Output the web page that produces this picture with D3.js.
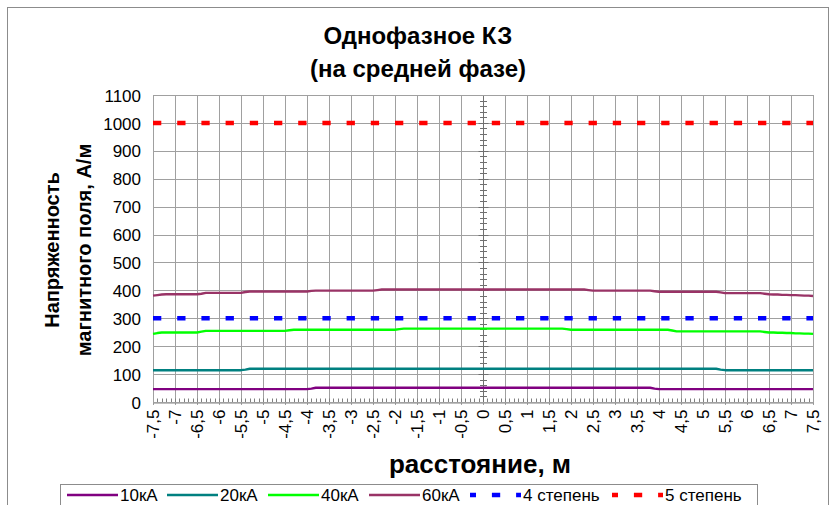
<!DOCTYPE html>
<html>
<head>
<meta charset="utf-8">
<script src="https://cdn.jsdelivr.net/npm/d3@7"></script>
<style>
  body { margin: 0; background: #fff; }
  text { font-family: "Liberation Sans", Arial, sans-serif; fill: #000; }
</style>
</head>
<body>
<svg id="chart" width="837" height="505"></svg>
<script>
// Distance from the middle phase, m (one point every 0.1 m)
const distance = d3.range(151).map(i => Math.round((-7.5 + i * 0.1) * 10) / 10);

// Labelled positions on the distance axis
const xTickValues = [-7.5,-7,-6.5,-6,-5.5,-5,-4.5,-4,-3.5,-3,-2.5,-2,-1.5,-1,-0.5,0,
                     0.5,1,1.5,2,2.5,3,3.5,4,4.5,5,5.5,6,6.5,7,7.5];
const xTickLabels = ["-7,5","-7","-6,5","-6","-5,5","-5","-4,5","-4","-3,5","-3","-2,5","-2","-1,5","-1","-0,5","0",
                     "0,5","1","1,5","2","2,5","3","3,5","4","4,5","5","5,5","6","6,5","7","7,5"];
const yTickValues = [0,100,200,300,400,500,600,700,800,900,1000,1100];

// Magnetic field strength, A/m, for each fault current
const h10kA = [
  46,46,46,46,46,46,46,46,46,46,
  46,46,46,46,46,46,46,46,46,46,
  46,46,46,46,46,46,46,46,46,46,
  46,46,46,46,46,46,48,51,51,51,
  51,51,51,51,51,51,51,51,51,51,
  51,51,51,51,51,51,51,51,51,51,
  51,51,51,51,51,51,51,51,51,51,
  51,51,51,51,51,51,51,51,51,51,
  51,51,51,51,51,51,51,51,51,51,
  51,51,51,51,51,51,51,51,51,51,
  51,51,51,51,51,51,51,51,51,51,
  51,51,51,51,48,46,46,46,46,46,
  46,46,46,46,46,46,46,46,46,46,
  46,46,46,46,46,46,46,46,46,46,
  46,46,46,46,46,46,46,46,46,46,
  46
];
const h20kA = [
  114,114,114,114,114,114,114,114,114,114,
  114,114,114,114,114,114,114,114,114,114,
  114,116,119,119,119,119,119,119,119,119,
  119,119,119,119,119,119,119,119,119,119,
  119,119,119,119,119,119,119,119,119,119,
  119,119,119,119,119,119,119,119,119,119,
  119,119,119,119,119,119,119,119,119,119,
  119,119,119,119,119,119,119,119,119,119,
  119,119,119,119,119,119,119,119,119,119,
  119,119,119,119,119,119,119,119,119,119,
  119,119,119,119,119,119,119,119,119,119,
  119,119,119,119,119,119,119,119,119,119,
  119,119,119,119,119,119,119,119,119,116,
  114,114,114,114,114,114,114,114,114,114,
  114,114,114,114,114,114,114,114,114,114,
  114
];
const h40kA = [
  244,247,249,249,249,249,249,249,249,249,
  249,252,255,255,255,255,255,255,255,255,
  255,255,255,255,255,255,255,255,255,255,
  255,257,259,259,259,259,259,259,259,259,
  259,259,259,259,259,259,259,259,259,259,
  259,259,259,259,259,259,261,263,263,263,
  263,263,263,263,263,263,263,263,263,263,
  263,263,263,263,263,263,263,263,263,263,
  263,263,263,263,263,263,263,263,263,263,
  263,263,263,263,261,259,259,259,259,259,
  259,259,259,259,259,259,259,259,259,259,
  259,259,259,259,259,259,259,259,256,253,
  253,253,253,253,253,253,253,253,253,253,
  253,253,253,253,253,253,253,253,253,251,
  249,249,248,248,247,247,246,246,245,245,
  244
];
const h60kA = [
  381,383,385,386,386,386,386,386,386,386,
  386,388,391,391,391,391,391,391,391,391,
  391,394,396,396,396,396,396,396,396,396,
  396,396,396,396,396,396,398,399,399,399,
  399,399,399,399,399,399,399,399,399,399,
  399,401,403,403,403,403,403,403,403,403,
  403,403,403,403,403,403,403,403,403,403,
  403,403,403,403,403,403,403,403,403,403,
  403,403,403,403,403,403,403,403,403,403,
  403,403,403,403,403,403,403,403,403,401,
  399,399,399,399,399,399,399,399,399,399,
  399,399,399,399,397,395,395,395,395,395,
  395,395,395,395,395,395,395,395,395,393,
  390,390,390,390,390,390,390,390,390,388,
  386,385,385,384,384,383,383,382,381,381,
  380
];

// Permitted levels, A/m
const level4 = 300;   // 4 степень
const level5 = 1000;  // 5 степень

const seriesNames  = ["10кА", "20кА", "40кА", "60кА"];
const seriesValues = [h10kA, h20kA, h40kA, h60kA];
const seriesColors = ["#800080", "#008080", "#00ff00", "#993366"];
const levelNames   = ["4 степень", "5 степень"];
const levelValues  = [level4, level5];
const levelColors  = ["#0000ff", "#ff0000"];

const svg = d3.select("#chart");
const plot = { left: 153, right: 813, top: 95, bottom: 402 };

const x = d3.scaleLinear().domain([-7.5, 7.5]).range([plot.left, plot.right]);
const y = d3.scaleLinear().domain([0, 1100]).range([plot.bottom, plot.top]);

// Chart area frame
svg.append("rect")
  .attr("x", 7.5).attr("y", 7.5).attr("width", 821).attr("height", 520)
  .attr("fill", "#fff").attr("stroke", "#8c8c8c").attr("stroke-width", 1);

// Title
const title = svg.append("text")
  .attr("text-anchor", "middle")
  .attr("font-size", 24).attr("font-weight", "bold");
title.append("tspan").attr("x", 418).attr("y", 44).text("Однофазное КЗ");
title.append("tspan").attr("x", 418).attr("y", 77).text("(на средней фазе)");

// Grid lines
const grid = svg.append("g").attr("stroke", "#a0a0a0").attr("stroke-width", 1);
grid.selectAll("line.h").data(yTickValues.filter(v => v > 0)).join("line")
  .attr("x1", plot.left).attr("x2", plot.right)
  .attr("y1", d => Math.round(y(d)) + 0.5).attr("y2", d => Math.round(y(d)) + 0.5);
grid.selectAll("line.v").data(xTickValues).join("line")
  .attr("x1", d => Math.round(x(d)) + 0.5).attr("x2", d => Math.round(x(d)) + 0.5)
  .attr("y1", plot.top).attr("y2", plot.bottom + 3);

// Bottom axis: one minor tick per point, labels every 0.5 m
const xAxis = d3.axisBottom(x).tickValues(xTickValues)
  .tickFormat((d, i) => xTickLabels[i]).tickSize(0).tickPadding(0);
const gx = svg.append("g").attr("transform", `translate(0,${plot.bottom + 0.5})`).call(xAxis);
gx.select(".domain").attr("stroke", "#808080");
gx.selectAll(".tick text")
  .attr("font-size", 17)
  .attr("text-anchor", "end")
  .attr("transform", "rotate(-90)")
  .attr("x", -7).attr("y", 0).attr("dy", "0.35em");
gx.selectAll("line.minor").data(distance).join("line")
  .attr("x1", d => Math.round(x(d)) + 0.5).attr("x2", d => Math.round(x(d)) + 0.5)
  .attr("y1", 0).attr("y2", -4)
  .attr("stroke", "#808080");

// Left labels of the value axis
const yAxis = d3.axisLeft(y).tickValues(yTickValues)
  .tickFormat(d3.format("d")).tickSize(0).tickPadding(0);
const gy = svg.append("g").attr("transform", `translate(${plot.left - 12},0)`).call(yAxis);
gy.select(".domain").remove();
gy.selectAll(".tick text").attr("font-size", 17).attr("dy", "0.36em");

// Value axis crossing at zero distance
const gc = svg.append("g").attr("transform", `translate(${Math.round(x(0)) + 0.5},0)`)
  .attr("stroke", "#707070");
gc.append("line").attr("y1", plot.top).attr("y2", plot.bottom);
gc.selectAll("line.tk").data(d3.range(0, 1101, 20)).join("line")
  .attr("x1", d => d % 100 === 0 ? -5 : -3.5).attr("x2", d => d % 100 === 0 ? 5 : 3.5)
  .attr("y1", d => Math.round(y(d)) + 0.5).attr("y2", d => Math.round(y(d)) + 0.5);

// Plot frame
svg.append("rect")
  .attr("x", plot.left + 0.5).attr("y", Math.round(plot.top) + 0.5)
  .attr("width", plot.right - plot.left).attr("height", plot.bottom - plot.top)
  .attr("fill", "none").attr("stroke", "#a0a0a0");

// Field curves
const line = d3.line().x((d, i) => x(distance[i])).y(d => y(d));
svg.append("g").selectAll("path").data(seriesValues).join("path")
  .attr("d", d => line(d))
  .attr("fill", "none")
  .attr("stroke", (d, i) => seriesColors[i])
  .attr("stroke-width", 2.4)
  .attr("stroke-linejoin", "round");

// Permitted levels as dashed lines
svg.append("g").selectAll("line").data(levelValues).join("line")
  .attr("x1", x(-7.5)).attr("x2", x(7.5))
  .attr("y1", d => y(d)).attr("y2", d => y(d))
  .attr("stroke", (d, i) => levelColors[i])
  .attr("stroke-width", 4.5)
  .attr("stroke-dasharray", "8.3 15.9");

// Axis titles
svg.append("text")
  .attr("x", 480).attr("y", 473)
  .attr("text-anchor", "middle")
  .attr("font-size", 26).attr("font-weight", "bold")
  .text("расстояние, м");

const yTitle = svg.append("text")
  .attr("transform", "translate(0,250) rotate(-90)")
  .attr("text-anchor", "middle")
  .attr("font-size", 20).attr("font-weight", "bold");
yTitle.append("tspan").attr("x", 0).attr("y", 59).text("Напряженность");
yTitle.append("tspan").attr("x", 0).attr("y", 91).text("магнитного поля, А/м");

// Legend
const legend = svg.append("g");
legend.append("rect")
  .attr("x", 60.5).attr("y", 484.5).attr("width", 697).attr("height", 30)
  .attr("fill", "#fff").attr("stroke", "#8c8c8c");
const legendItems = [
  ...seriesNames.map((n, i) => ({ name: n, color: seriesColors[i], dashed: false })),
  ...levelNames.map((n, i) => ({ name: n, color: levelColors[i], dashed: true }))
];
const legendStarts = [67, 167, 268, 369, 470, 612];
legendItems.forEach((item, i) => {
  const x0 = legendStarts[i];
  const l = legend.append("line")
    .attr("x1", x0).attr("x2", x0 + 51)
    .attr("y1", 495).attr("y2", 495)
    .attr("stroke", item.color);
  if (item.dashed) {
    l.attr("stroke-width", 4.5).attr("stroke-dasharray", "8.3 15.9").attr("stroke-dashoffset", 2.3);
  } else {
    l.attr("stroke-width", 2.4);
  }
  legend.append("text")
    .attr("x", x0 + 53).attr("y", 501)
    .attr("font-size", 17)
    .text(item.name);
});
</script>
</body>
</html>
